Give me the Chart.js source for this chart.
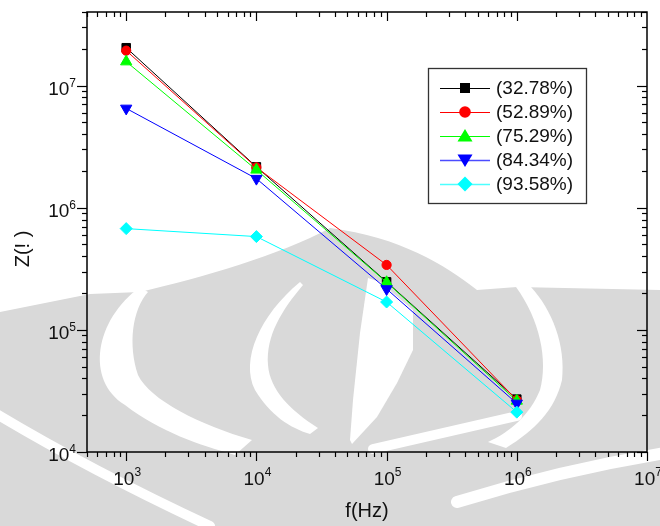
<!DOCTYPE html>
<html>
<head>
<meta charset="utf-8">
<script src="https://cdn.jsdelivr.net/npm/chart.js@4.4.1/dist/chart.umd.min.js"></script>
<style>
  html,body{margin:0;padding:0;background:#fff;}
  #wrap{width:660px;height:526px;position:relative;}
</style>
</head>
<body>
<div id="wrap"><canvas id="c" width="660" height="526"></canvas></div>
<script>
// data
const freqs=[1e3,1e4,1e5,1e6];
const z3278=[2.04e7,2.16e6,2.47e5,2.71e4];
const z5289=[1.93e7,2.14e6,3.4e5,2.66e4];
const z7529=[1.57e7,2.04e6,2.45e5,2.62e4];
const z8434=[6.5e6,1.73e6,2.16e5,2.5e4];
const z9358=[6.74e5,5.8e5,1.69e5,2.12e4];
const seriesLabels=['(32.78%)','(52.89%)','(75.29%)','(84.34%)','(93.58%)'];
const seriesColors=['#000000','#ff0000','#00ff00','#0000ff','#00ffff'];
const xTickExps=[3,4,5,6,7];
const yTickExps=[4,5,6,7];

const FONT='"Liberation Sans", Arial, sans-serif';
const styles=[
  {ps:'rect',r:6,rot:0},
  {ps:'circle',r:4.6,rot:0},
  {ps:'triangle',r:6.5,rot:0},
  {ps:'triangle',r:6.5,rot:180},
  {ps:'rectRot',r:6,rot:0},
];
const allZ=[z3278,z5289,z7529,z8434,z9358];

function mkDs(i){
  return {
    label:seriesLabels[i],
    data:freqs.map((f,k)=>({x:f,y:allZ[i][k]})),
    borderColor:seriesColors[i],backgroundColor:seriesColors[i],
    borderWidth:1,pointStyle:styles[i].ps,pointRadius:styles[i].r,pointRotation:styles[i].rot,
    pointBorderWidth:1,pointBorderColor:seriesColors[i],pointBackgroundColor:seriesColors[i],
    tension:0,fill:false,order:5-i
  };
}

function drawWatermark(ctx){
  ctx.save();
  ctx.fillStyle='#d9d9d9';
  ctx.beginPath();
  ctx.moveTo(0,312);ctx.lineTo(90,294);ctx.lineTo(140,292);
  ctx.bezierCurveTo(200,278,280,255,330,228);
  ctx.bezierCurveTo(400,237,445,265,477,290);
  ctx.lineTo(517,287);ctx.lineTo(660,290);ctx.lineTo(660,526);ctx.lineTo(0,526);ctx.closePath();ctx.fill();
  ctx.fillStyle='#fff';
  // crescent A
  ctx.beginPath();
  ctx.moveTo(140,287);
  ctx.bezierCurveTo(95,320,85,380,125,405);ctx.bezierCurveTo(160,432,200,445,235,455);
  ctx.lineTo(252,440);
  ctx.bezierCurveTo(200,425,150,400,138,375);ctx.bezierCurveTo(128,345,132,310,148,292);
  ctx.closePath();ctx.fill();
  // crescent B
  ctx.beginPath();
  ctx.moveTo(300,282);
  ctx.bezierCurveTo(260,315,240,360,255,390);ctx.bezierCurveTo(270,415,290,428,310,434);
  ctx.lineTo(318,428);
  ctx.bezierCurveTo(290,410,270,390,268,365);ctx.bezierCurveTo(266,335,282,310,303,285);
  ctx.closePath();ctx.fill();
  // wedge C
  ctx.beginPath();
  ctx.moveTo(368,278);ctx.lineTo(380,282);ctx.lineTo(413,310);ctx.lineTo(413,350);
  ctx.lineTo(397,383);ctx.lineTo(377,417);ctx.lineTo(352,444);ctx.lineTo(350,440);
  ctx.lineTo(353,400);ctx.lineTo(360,333);ctx.closePath();ctx.fill();
  // crescent D
  ctx.beginPath();
  ctx.moveTo(516,287);
  ctx.bezierCurveTo(540,320,548,360,540,390);ctx.bezierCurveTo(530,415,510,432,488,442);
  ctx.lineTo(506,448);
  ctx.bezierCurveTo(535,430,555,410,562,380);ctx.bezierCurveTo(566,345,552,310,531,287);
  ctx.closePath();ctx.fill();
  // diagonal bands
  ctx.strokeStyle='#fff';ctx.lineCap='round';
  ctx.lineWidth=10;
  ctx.beginPath();ctx.moveTo(373,449);ctx.lineTo(517,416);ctx.stroke();
  ctx.beginPath();ctx.moveTo(-5,413);ctx.quadraticCurveTo(90,470,210,526);ctx.stroke();
  ctx.lineWidth=12;
  ctx.beginPath();ctx.moveTo(457,502);ctx.quadraticCurveTo(560,470,665,453);ctx.stroke();
  ctx.restore();
}

// legend marker (a little larger than the plot markers, as in the original)
function drawMarker(ctx,i,x,y){
  ctx.save();
  ctx.fillStyle=seriesColors[i];
  ctx.beginPath();
  if(i===0){ctx.rect(x-5,y-5,10,10);}
  else if(i===1){ctx.arc(x,y,5.8,0,Math.PI*2);}
  else if(i===2){ctx.moveTo(x,y-7);ctx.lineTo(x+7.5,y+5.5);ctx.lineTo(x-7.5,y+5.5);ctx.closePath();}
  else if(i===3){ctx.moveTo(x,y+7);ctx.lineTo(x+7.5,y-5.5);ctx.lineTo(x-7.5,y-5.5);ctx.closePath();}
  else {ctx.moveTo(x,y-7.5);ctx.lineTo(x+7.5,y);ctx.lineTo(x,y+7.5);ctx.lineTo(x-7.5,y);ctx.closePath();}
  ctx.fill();
  ctx.restore();
}

const decor={
  id:'decor',
  beforeDraw(chart){
    const ctx=chart.ctx;
    ctx.save();ctx.fillStyle='#fff';ctx.fillRect(0,0,chart.width,chart.height);ctx.restore();
    drawWatermark(ctx);
  },
  afterDraw(chart){
    const ctx=chart.ctx,xs=chart.scales.x,ys=chart.scales.y,a=chart.chartArea;
    ctx.save();
    ctx.strokeStyle='#000';ctx.lineWidth=1.5;
    ctx.strokeRect(a.left,a.top,a.right-a.left,a.bottom-a.top);
    ctx.lineWidth=1.2;
    // x ticks
    for(let e=2;e<=6;e++){
      for(let m=1;m<=9;m++){
        const v=m*Math.pow(10,e);
        if(v<xs.min-1e-6||v>xs.max+1e-6)continue;
        const px=Math.round(xs.getPixelForValue(v))+0.5;
        const L=m===1?9:5;
        ctx.beginPath();ctx.moveTo(px,a.bottom);ctx.lineTo(px,a.bottom+L);ctx.stroke();
        ctx.beginPath();ctx.moveTo(px,a.top);ctx.lineTo(px,a.top+L);ctx.stroke();
      }
    }
    {
      const px=Math.round(xs.getPixelForValue(1e7))+0.5;
      ctx.beginPath();ctx.moveTo(px,a.bottom);ctx.lineTo(px,a.bottom+9);ctx.stroke();
    }
    // y ticks
    for(let e=4;e<=7;e++){
      for(let m=1;m<=9;m++){
        const v=m*Math.pow(10,e);
        if(v<ys.min-1e-6||v>ys.max+1e-6)continue;
        const py=Math.round(ys.getPixelForValue(v))+0.5;
        const L=m===1?10:5;
        ctx.beginPath();ctx.moveTo(a.left,py);ctx.lineTo(a.left-L,py);ctx.stroke();
        ctx.beginPath();ctx.moveTo(a.right,py);ctx.lineTo(a.right-L,py);ctx.stroke();
      }
    }
    // tick labels
    ctx.fillStyle='#111';
    xTickExps.forEach(e=>{
      const px=xs.getPixelForValue(Math.pow(10,e));
      ctx.font='19px '+FONT;
      const w1=ctx.measureText('10').width;
      ctx.font='12px '+FONT;
      const w2=ctx.measureText(String(e)).width;
      const x0=px-(w1+w2)/2+1;
      ctx.textBaseline='alphabetic';ctx.textAlign='left';
      ctx.font='19px '+FONT;ctx.fillText('10',x0,485);
      ctx.font='12px '+FONT;ctx.fillText(String(e),x0+w1,476);
    });
    yTickExps.forEach(e=>{
      const py=ys.getPixelForValue(Math.pow(10,e));
      ctx.font='12px '+FONT;
      const w2=ctx.measureText(String(e)).width;
      ctx.textAlign='right';ctx.textBaseline='alphabetic';
      ctx.fillText(String(e),76,py+1);
      ctx.font='19px '+FONT;ctx.fillText('10',76-w2,py+9);
    });
    // axis titles
    ctx.font='20px '+FONT;ctx.fillStyle='#111';
    ctx.textAlign='center';ctx.textBaseline='alphabetic';
    ctx.fillText('f(Hz)',(a.left+a.right)/2,517);
    ctx.save();ctx.translate(29,249);ctx.rotate(-Math.PI/2);
    ctx.fillText('Z(! )',0,0);ctx.restore();
    // legend
    const bx=428,by=68,bw=158,bh=135;
    ctx.fillStyle='#fff';ctx.fillRect(bx,by,bw,bh);
    ctx.strokeStyle='#333';ctx.lineWidth=1.3;ctx.strokeRect(bx+0.5,by+0.5,bw,bh);
    seriesLabels.forEach((lab,i)=>{
      const y=88+i*24;
      ctx.strokeStyle=seriesColors[i];ctx.lineWidth=i>=3?1.6:1;
      ctx.globalAlpha=i>=3?0.7:1;
      ctx.beginPath();ctx.moveTo(440,y+0.5);ctx.lineTo(490,y+0.5);ctx.stroke();
      ctx.globalAlpha=1;
      drawMarker(ctx,i,465,y);
      ctx.fillStyle='#111';ctx.font='19px '+FONT;ctx.textAlign='left';ctx.textBaseline='middle';
      ctx.fillText(lab,496,y+1);
    });
    ctx.restore();
  }
};

new Chart(document.getElementById('c'),{
  type:'line',
  data:{datasets:[0,1,2,3,4].map(mkDs)},
  options:{
    responsive:false,animation:false,
    layout:{padding:{left:87,top:12,right:13,bottom:74}},
    plugins:{legend:{display:false},tooltip:{enabled:false}},
    scales:{
      x:{type:'logarithmic',min:500,max:1e7,display:false},
      y:{type:'logarithmic',min:1e4,max:4e7,display:false}
    }
  },
  plugins:[decor]
});
</script>
</body>
</html>
